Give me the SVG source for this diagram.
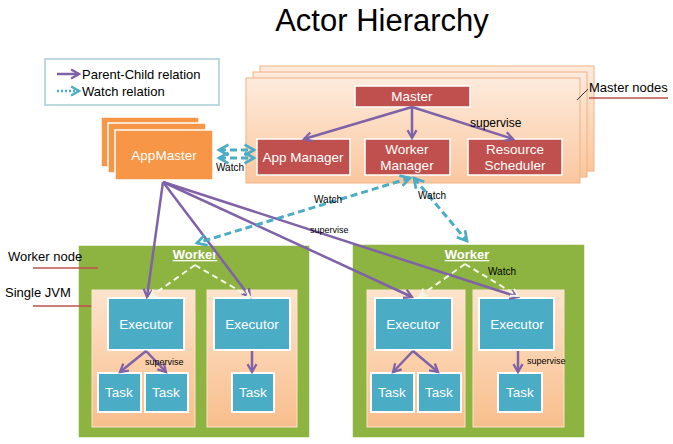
<svg xmlns="http://www.w3.org/2000/svg" width="673" height="444" viewBox="0 0 673 444">
<defs>
<linearGradient id="peach" x1="0" y1="0" x2="0" y2="1"><stop offset="0" stop-color="#FDEBDD"/><stop offset="1" stop-color="#FAC79E"/></linearGradient>
<linearGradient id="jvm" x1="0" y1="0" x2="0" y2="1"><stop offset="0" stop-color="#FDE3CC"/><stop offset="1" stop-color="#F8BE8C"/></linearGradient>
<marker id="pa" viewBox="0 0 10 10" refX="8" refY="5" markerWidth="4.5" markerHeight="4.5" orient="auto"><path d="M1,1 L8,5 L1,9" fill="none" stroke="#7F62A8" stroke-width="2"/></marker>
<marker id="ta" viewBox="0 0 10 10" refX="8" refY="5" markerWidth="4.5" markerHeight="4.5" orient="auto-start-reverse"><path d="M1,1 L8,5 L1,9" fill="none" stroke="#4BACC6" stroke-width="2"/></marker>
<marker id="wa" viewBox="0 0 10 10" refX="8" refY="5" markerWidth="5" markerHeight="5" orient="auto"><path d="M1,1 L8,5 L1,9" fill="none" stroke="#F2F7E6" stroke-width="2"/></marker>
</defs>
<style>
text{font-family:"Liberation Sans",Arial,sans-serif}
.t{font-size:13px;fill:#000}
.s{font-size:10px;fill:#000}
.w{fill:#fff;font-size:13.5px;text-anchor:middle}
.red{fill:#C0504D;stroke:#fff;stroke-width:1.5}
.exe{fill:#4BACC6;stroke:#fff;stroke-width:2}
.org{fill:#F79646;stroke:#fff;stroke-width:1.5}
.mn{fill:url(#peach);stroke:#F4B183;stroke-width:1}
.grn{fill:#8DB341;stroke:#fff;stroke-width:1.5}
.jvm{fill:url(#jvm);stroke:#FCE4D0;stroke-width:1}
.p{stroke:#7F62A8;stroke-width:2.5;fill:none;marker-end:url(#pa)}
.d{stroke:#4BACC6;stroke-width:3;fill:none;stroke-dasharray:7 4;marker-end:url(#ta);marker-start:url(#ta)}
.wd{stroke:#F2F7E6;stroke-width:2;fill:none;stroke-dasharray:6 4;marker-end:url(#wa)}
.ul{stroke:#C0504D;stroke-width:1.5}
</style>
<rect width="673" height="444" fill="#fff"/>
<text x="382" y="31" font-size="31" text-anchor="middle" fill="#000">Actor Hierarchy</text>

<g id="legend">
<rect x="45" y="59" width="174" height="46" fill="#fff" stroke="#A9CDD7" stroke-width="1.5"/>
<line x1="57" y1="74" x2="79" y2="74" class="p"/>
<line x1="57" y1="91" x2="79" y2="91" stroke="#4BACC6" stroke-width="2.5" stroke-dasharray="2 2" marker-end="url(#ta)"/>
<text x="82" y="79" class="t">Parent-Child relation</text>
<text x="82" y="96" class="t">Watch relation</text>
</g>

<g id="master-nodes">
<rect x="260" y="66" width="334" height="105" class="mn"/>
<rect x="253" y="72" width="334" height="105" class="mn"/>
<rect x="246" y="78" width="334" height="105" class="mn"/>
<text x="589" y="92" class="t">Master nodes</text>
<line x1="589" y1="98" x2="668" y2="98" class="ul"/>
<line x1="577" y1="100" x2="588" y2="89" stroke="#333" stroke-width="1"/>
</g>

<g id="master"><rect x="355" y="86" width="115" height="21" class="red"/><text x="412" y="101" class="w">Master</text></g>
<g id="app-manager"><rect x="257" y="139" width="93" height="36" class="red"/><text x="303" y="162" class="w">App Manager</text></g>
<g id="worker-manager"><rect x="365" y="139" width="85" height="36" class="red"/><text x="407" y="154" class="w">Worker</text><text x="407" y="170" class="w">Manager</text></g>
<g id="resource-scheduler"><rect x="468" y="139" width="94" height="36" class="red"/><text x="515" y="154" class="w">Resource</text><text x="515" y="170" class="w">Scheduler</text></g>

<g id="appmaster">
<rect x="101" y="117" width="98" height="50" class="org"/>
<rect x="108" y="123" width="98" height="50" class="org"/>
<rect x="115" y="130" width="98" height="50" class="org"/>
<text x="164" y="160" class="w">AppMaster</text>
</g>

<g id="worker-node-left">
<rect x="78" y="245" width="232" height="193" class="grn"/>
<text x="195" y="259" font-size="13" font-weight="bold" fill="#fff" text-anchor="middle" text-decoration="underline">Worker</text>
</g>
<g id="worker-node-right">
<rect x="352" y="244" width="233" height="194" class="grn"/>
<text x="467" y="259" font-size="13" font-weight="bold" fill="#fff" text-anchor="middle" text-decoration="underline">Worker</text>
</g>

<g id="labels">
<text x="8" y="261" class="t">Worker node</text>
<line x1="33" y1="268" x2="98" y2="268" class="ul"/>
<text x="5" y="297" class="t">Single JVM</text>
<line x1="33" y1="306" x2="100" y2="306" class="ul"/>
</g>

<g id="jvm-l1"><rect x="92" y="290" width="103" height="137" class="jvm"/></g>
<g id="jvm-l2"><rect x="207" y="290" width="90" height="137" class="jvm"/></g>
<g id="jvm-r1"><rect x="367" y="290" width="98" height="137" class="jvm"/></g>
<g id="jvm-r2"><rect x="473" y="290" width="91" height="137" class="jvm"/></g>

<g id="exec-l1"><rect x="108" y="298" width="76" height="52" class="exe"/><text x="146" y="329" class="w">Executor</text></g>
<g id="exec-l2"><rect x="214" y="298" width="76" height="52" class="exe"/><text x="252" y="329" class="w">Executor</text></g>
<g id="exec-r1"><rect x="375" y="298" width="77" height="52" class="exe"/><text x="413" y="329" class="w">Executor</text></g>
<g id="exec-r2"><rect x="479" y="298" width="75" height="52" class="exe"/><text x="517" y="329" class="w">Executor</text></g>

<g id="task-l1a"><rect x="98" y="373" width="43" height="39" class="exe"/><text x="119" y="397" class="w">Task</text></g>
<g id="task-l1b"><rect x="145" y="373" width="43" height="39" class="exe"/><text x="166" y="397" class="w">Task</text></g>
<g id="task-l2"><rect x="232" y="373" width="42" height="39" class="exe"/><text x="253" y="397" class="w">Task</text></g>
<g id="task-r1a"><rect x="371" y="373" width="43" height="39" class="exe"/><text x="392" y="397" class="w">Task</text></g>
<g id="task-r1b"><rect x="418" y="373" width="43" height="39" class="exe"/><text x="439" y="397" class="w">Task</text></g>
<g id="task-r2"><rect x="498" y="373" width="44" height="39" class="exe"/><text x="520" y="397" class="w">Task</text></g>

<g id="connectors">
<path d="M412,107 L304,139" class="p"/>
<path d="M412,107 L412,138" class="p"/>
<path d="M412,107 L513,139" class="p"/>
<text x="470" y="127" font-size="12" fill="#000">supervise</text>

<path d="M219,150 L254,150" class="d"/>
<path d="M219,158 L254,158" class="d"/>
<text x="216" y="171" class="s">Watch</text>

<path d="M163,182 L147,297" class="p"/>
<path d="M163,182 L250,297" class="p"/>
<path d="M163,182 L412,297" class="p"/>
<path d="M163,182 L518,297" class="p"/>
<text x="310" y="233" font-size="9" fill="#000">supervise</text>

<path d="M410,178 L197,243" class="d"/>
<text x="314" y="203" class="s">Watch</text>
<path d="M414,178 L467,241" class="d"/>
<text x="418" y="199" class="s">Watch</text>

<path d="M195,265 L150,297" class="wd"/>
<path d="M195,265 L250,297" class="wd"/>
<path d="M465,264 L420,296" class="wd"/>
<path d="M465,264 L518,296" class="wd"/>
<text x="488" y="275" class="s">Watch</text>

<path d="M146,351 L120,372" class="p"/>
<path d="M146,351 L166,372" class="p"/>
<text x="145" y="365" font-size="9" fill="#000">supervise</text>
<path d="M252,351 L252,372" class="p"/>
<path d="M413,351 L393,372" class="p"/>
<path d="M413,351 L438,372" class="p"/>
<path d="M518,351 L518,372" class="p"/>
<text x="527" y="364" font-size="9" fill="#000">supervise</text>
</g>
</svg>
